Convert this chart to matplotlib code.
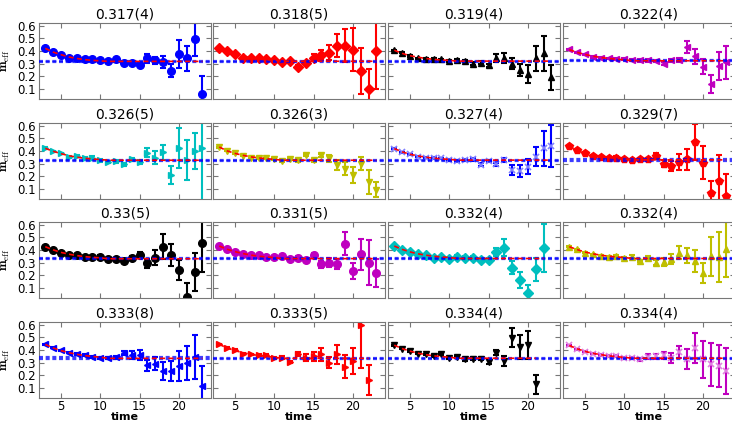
import matplotlib
matplotlib.use("Agg")
import matplotlib.pyplot as plt
import numpy as np

plt.rcParams['mathtext.fontset'] = 'cm'

# fit results shown as panel titles: value and error (last digit)
fit_values = [0.317, 0.318, 0.319, 0.322, 0.326, 0.326, 0.327, 0.329,
              0.33, 0.331, 0.332, 0.332, 0.333, 0.333, 0.334, 0.334]
fit_errors = [0.004, 0.005, 0.004, 0.004, 0.005, 0.003, 0.004, 0.007,
              0.005, 0.005, 0.004, 0.004, 0.008, 0.005, 0.004, 0.004]
titles = ["0.317(4)", "0.318(5)", "0.319(4)", "0.322(4)",
          "0.326(5)", "0.326(3)", "0.327(4)", "0.329(7)",
          "0.33(5)", "0.331(5)", "0.332(4)", "0.332(4)",
          "0.333(8)", "0.333(5)", "0.334(4)", "0.334(4)"]

# effective mass per panel, starting at time = 3
meff_values = [
    [0.42, 0.39, 0.371, 0.345, 0.34, 0.337, 0.334, 0.324, 0.319, 0.332, 0.308,
     0.303, 0.29, 0.34, 0.324, 0.313, 0.243, 0.373, 0.342, 0.49, 0.06],
    [0.425, 0.40, 0.378, 0.347, 0.345, 0.34, 0.334, 0.327, 0.31, 0.32, 0.275,
     0.305, 0.347, 0.37, 0.386, 0.44, 0.44, 0.41, 0.24, 0.097, 0.397],
    [0.405, 0.384, 0.36, 0.34, 0.334, 0.337, 0.332, 0.32, 0.327, 0.32, 0.30,
     0.308, 0.285, 0.347, 0.347, 0.30, 0.25, 0.217, 0.34, 0.38, 0.19],
    [0.412, 0.39, 0.373, 0.352, 0.347, 0.34, 0.337, 0.332, 0.327, 0.324, 0.324,
     0.32, 0.30, 0.324, 0.327, 0.43, 0.358, 0.275, 0.14, 0.28, 0.31],
    [0.423, 0.397, 0.38, 0.353, 0.36, 0.34, 0.347, 0.324, 0.313, 0.319, 0.293,
     0.332, 0.313, 0.384, 0.347, 0.39, 0.21, 0.423, 0.327, 0.40, 0.423],
    [0.43, 0.40, 0.38, 0.362, 0.347, 0.345, 0.34, 0.337, 0.32, 0.334, 0.324,
     0.366, 0.327, 0.366, 0.34, 0.287, 0.26, 0.21, 0.30, 0.152, 0.092],
    [0.418, 0.39, 0.373, 0.353, 0.347, 0.345, 0.34, 0.327, 0.32, 0.327, 0.332,
     0.29, 0.32, 0.293, 0.327, 0.25, 0.24, 0.275, 0.353, 0.42, 0.44],
    [0.436, 0.405, 0.386, 0.358, 0.353, 0.347, 0.347, 0.332, 0.324, 0.334, 0.334,
     0.36, 0.30, 0.28, 0.31, 0.332, 0.47, 0.306, 0.066, 0.165, 0.04],
    [0.425, 0.40, 0.378, 0.357, 0.357, 0.346, 0.346, 0.346, 0.325, 0.325, 0.31,
     0.333, 0.36, 0.294, 0.338, 0.425, 0.36, 0.239, 0.03, 0.226, 0.453],
    [0.43, 0.41, 0.385, 0.37, 0.36, 0.36, 0.343, 0.343, 0.35, 0.325, 0.338,
     0.317, 0.357, 0.286, 0.30, 0.29, 0.448, 0.233, 0.364, 0.30, 0.215],
    [0.43, 0.40, 0.383, 0.364, 0.357, 0.338, 0.346, 0.325, 0.346, 0.338, 0.338,
     0.317, 0.317, 0.385, 0.417, 0.26, 0.163, 0.063, 0.246, 0.417],
    [0.425, 0.404, 0.378, 0.364, 0.35, 0.346, 0.35, 0.333, 0.346, 0.312, 0.338,
     0.30, 0.304, 0.33, 0.378, 0.357, 0.312, 0.22, 0.35, 0.343, 0.404],
    [0.443, 0.417, 0.396, 0.378, 0.37, 0.36, 0.346, 0.336, 0.336, 0.34, 0.378,
     0.36, 0.357, 0.278, 0.29, 0.233, 0.233, 0.273, 0.294, 0.346, 0.116],
    [0.443, 0.417, 0.40, 0.37, 0.364, 0.36, 0.36, 0.338, 0.338, 0.304, 0.37,
     0.338, 0.35, 0.364, 0.30, 0.364, 0.267, 0.312, 0.60, 0.16],
    [0.437, 0.41, 0.39, 0.37, 0.364, 0.35, 0.364, 0.338, 0.343, 0.325, 0.33,
     0.33, 0.307, 0.378, 0.312, 0.495, 0.425, 0.435, 0.13],
    [0.435, 0.404, 0.386, 0.37, 0.36, 0.35, 0.35, 0.338, 0.338, 0.325, 0.346,
     0.35, 0.357, 0.338, 0.383, 0.325, 0.417, 0.325, 0.286, 0.273, 0.233],
]

meff_errors = [
    [0.004, 0.004, 0.005, 0.006, 0.006, 0.007, 0.008, 0.008, 0.009, 0.01, 0.01,
     0.012, 0.014, 0.035, 0.03, 0.045, 0.05, 0.11, 0.1, 0.13, 0.14],
    [0.005, 0.005, 0.006, 0.006, 0.007, 0.008, 0.008, 0.009, 0.01, 0.011, 0.012,
     0.014, 0.03, 0.04, 0.06, 0.09, 0.13, 0.17, 0.18, 0.16, 0.3],
    [0.004, 0.004, 0.005, 0.005, 0.006, 0.006, 0.007, 0.008, 0.009, 0.01, 0.011,
     0.012, 0.015, 0.032, 0.04, 0.043, 0.048, 0.07, 0.1, 0.14, 0.1],
    [0.004, 0.004, 0.005, 0.005, 0.006, 0.006, 0.007, 0.008, 0.008, 0.009, 0.01,
     0.011, 0.012, 0.015, 0.015, 0.05, 0.06, 0.06, 0.07, 0.11, 0.13],
    [0.005, 0.005, 0.006, 0.007, 0.007, 0.008, 0.009, 0.009, 0.01, 0.011, 0.012,
     0.013, 0.015, 0.035, 0.05, 0.06, 0.07, 0.155, 0.155, 0.145, 0.45],
    [0.004, 0.004, 0.004, 0.005, 0.005, 0.006, 0.006, 0.007, 0.007, 0.008, 0.009,
     0.01, 0.011, 0.012, 0.024, 0.04, 0.05, 0.065, 0.055, 0.095, 0.06],
    [0.004, 0.004, 0.005, 0.005, 0.006, 0.006, 0.007, 0.007, 0.008, 0.009, 0.01,
     0.012, 0.01, 0.015, 0.015, 0.04, 0.045, 0.06, 0.075, 0.14, 0.165],
    [0.005, 0.005, 0.006, 0.007, 0.007, 0.008, 0.009, 0.01, 0.011, 0.012, 0.013,
     0.027, 0.03, 0.04, 0.065, 0.08, 0.145, 0.13, 0.1, 0.2, 0.18],
    [0.005, 0.005, 0.006, 0.007, 0.008, 0.008, 0.009, 0.01, 0.011, 0.012, 0.013,
     0.015, 0.025, 0.035, 0.06, 0.1, 0.085, 0.08, 0.11, 0.15, 0.23],
    [0.005, 0.005, 0.006, 0.006, 0.007, 0.007, 0.008, 0.009, 0.01, 0.011, 0.012,
     0.013, 0.015, 0.03, 0.035, 0.04, 0.09, 0.065, 0.12, 0.18, 0.11],
    [0.005, 0.005, 0.006, 0.006, 0.007, 0.008, 0.008, 0.009, 0.01, 0.011, 0.012,
     0.013, 0.015, 0.033, 0.068, 0.052, 0.065, 0.06, 0.09, 0.19],
    [0.005, 0.005, 0.006, 0.006, 0.007, 0.007, 0.008, 0.009, 0.01, 0.011, 0.012,
     0.018, 0.03, 0.04, 0.052, 0.06, 0.085, 0.08, 0.155, 0.2, 0.215],
    [0.005, 0.005, 0.006, 0.006, 0.007, 0.007, 0.008, 0.009, 0.01, 0.011, 0.016,
     0.033, 0.04, 0.045, 0.05, 0.07, 0.08, 0.12, 0.135, 0.175, 0.16],
    [0.005, 0.005, 0.006, 0.006, 0.007, 0.007, 0.008, 0.009, 0.01, 0.011, 0.017,
     0.026, 0.035, 0.048, 0.043, 0.072, 0.09, 0.1, 0.34, 0.12],
    [0.005, 0.005, 0.006, 0.006, 0.007, 0.008, 0.008, 0.009, 0.01, 0.011, 0.012,
     0.013, 0.02, 0.022, 0.038, 0.075, 0.095, 0.11, 0.075],
    [0.004, 0.004, 0.005, 0.005, 0.006, 0.006, 0.007, 0.008, 0.009, 0.01, 0.02,
     0.021, 0.029, 0.04, 0.05, 0.08, 0.12, 0.145, 0.17, 0.165, 0.18],
]

# fitted curve at time = 3..10 (it sits on the fit value afterwards)
fit_curve_head = [
    [0.42, 0.39, 0.37, 0.352, 0.340, 0.331, 0.325, 0.321],
    [0.425, 0.398, 0.376, 0.36, 0.348, 0.338, 0.331, 0.326],
    [0.405, 0.38, 0.362, 0.35, 0.34, 0.333, 0.328, 0.325],
    [0.41, 0.388, 0.372, 0.358, 0.348, 0.34, 0.334, 0.33],
    [0.42, 0.397, 0.378, 0.362, 0.35, 0.342, 0.336, 0.332],
    [0.43, 0.40, 0.38, 0.365, 0.353, 0.344, 0.338, 0.333],
    [0.418, 0.392, 0.373, 0.36, 0.35, 0.342, 0.337, 0.333],
    [0.435, 0.405, 0.384, 0.368, 0.356, 0.347, 0.341, 0.336],
    [0.425, 0.40, 0.38, 0.366, 0.355, 0.347, 0.341, 0.337],
    [0.43, 0.405, 0.386, 0.371, 0.359, 0.35, 0.344, 0.339],
    [0.43, 0.404, 0.384, 0.369, 0.358, 0.35, 0.344, 0.34],
    [0.425, 0.402, 0.383, 0.369, 0.358, 0.35, 0.344, 0.34],
    [0.443, 0.415, 0.394, 0.378, 0.365, 0.355, 0.348, 0.342],
    [0.443, 0.415, 0.394, 0.378, 0.365, 0.355, 0.348, 0.342],
    [0.437, 0.41, 0.39, 0.374, 0.362, 0.353, 0.347, 0.342],
    [0.435, 0.408, 0.388, 0.373, 0.362, 0.353, 0.346, 0.341],
]

t_start = 3
colors = ['b', 'r', 'k', 'm', 'c', 'y', 'b', 'r',
          'k', 'm', 'c', 'y', 'b', 'r', 'k', 'm']
markers = ['o', 'D', '^', '<', '>', 'v', 'x', 'p',
           'o', 'o', 'D', '^', '<', '>', 'v', 'x']
msizes = [5.5, 5.5, 5, 5, 5, 5, 4, 6, 5.5, 5.5, 5.5, 5, 5, 5, 5, 4]
light = {'b': '#8080ff', 'm': '#e080e0'}

W, H = 732, 422
fig = plt.figure(figsize=(W / 100, H / 100), dpi=100)

col_left = [39, 213, 388, 563]
row_top = [23, 123, 222, 322]
aw, ah = 172, 76

for i in range(16):
    r, c = divmod(i, 4)
    ax = fig.add_axes([col_left[c] / W, 1 - (row_top[r] + ah) / H, aw / W, ah / H])
    vals = np.array(meff_values[i])
    errs = np.array(meff_errors[i])
    t = np.arange(t_start, t_start + len(vals))
    col = colors[i]

    if markers[i] == 'x':
        ax.errorbar(t, vals, yerr=errs, fmt='none', ecolor=col, elinewidth=1.5,
                    capsize=2.5, capthick=1.5, zorder=2)
        ax.plot(t, vals, 'x', color=light[col], ms=5, mew=1.2, zorder=3)
    else:
        ax.errorbar(t, vals, yerr=errs, fmt=markers[i], color=col, ms=msizes[i],
                    mec=col, elinewidth=1.5, capsize=2.5, capthick=1.5, zorder=2)

    fv, fe = fit_values[i], fit_errors[i]
    for y in (fv - fe, fv + fe):
        ax.axhline(y, color='b', lw=1.6, alpha=0.75, dashes=(1.8, 1.2), zorder=4)

    head = fit_curve_head[i]
    tc = np.arange(t_start, t[-1] + 1)
    yc = np.array(head + [fv] * (len(tc) - len(head)))
    ax.plot(tc, yc, color='r', lw=1.2, dashes=(3, 2), zorder=5)

    ax.set_xlim(2.2, 24.1)
    ax.set_ylim(0.02, 0.62)
    ax.set_xticks([5, 10, 15, 20])
    ax.set_yticks([0.1, 0.2, 0.3, 0.4, 0.5, 0.6])
    ax.tick_params(direction='in', top=True, right=True, length=3.5,
                   color='#777777', labelsize=8.5, pad=2)
    ax.tick_params(axis='x', pad=1.5)
    for sp in ax.spines.values():
        sp.set_color('#777777')
    ax.set_title(titles[i], fontsize=10, pad=3)

    if c == 0:
        ax.set_ylabel(r'$\mathbf{m}_{\mathrm{eff}}$', fontsize=9)
        ax.yaxis.set_label_coords(-0.155, 0.5)
    else:
        ax.set_yticklabels([])
    if r == 3:
        ax.set_xlabel('time', fontsize=8, fontweight='bold')
        ax.xaxis.set_label_coords(0.5, -0.185)
    else:
        ax.set_xticklabels([])

fig.savefig('out.png', dpi=100)
